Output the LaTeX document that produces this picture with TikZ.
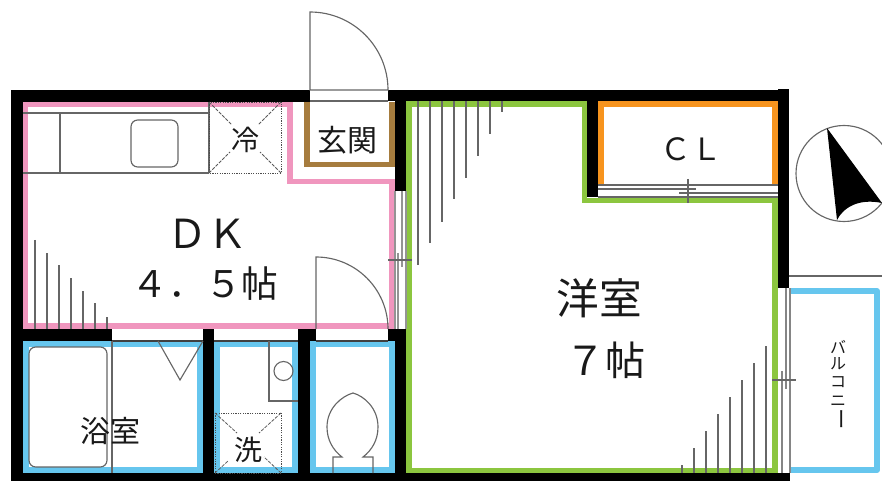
\documentclass[tikz,border=0pt]{standalone}
\usepackage{fontspec}
\setmainfont{Noto Sans CJK JP}
\begin{document}
\begin{tikzpicture}[x=0.75pt,y=-0.75pt,
  wall/.style={fill=black,draw=none},
  pinkline/.style={draw=roomPink,line width=4.1pt,line join=miter},
  thin/.style={draw=lineGrey,line width=0.85pt},
  hatch/.style={draw=lineGrey,line width=0.85pt},
  dots/.style={draw=black!70,line width=0.7pt,dash pattern=on 0.9pt off 0.9pt},
  dash1/.style={draw=black!65,line width=0.6pt,dash pattern=on 2.5pt off 1pt},
  label/.style={inner sep=0pt,text=black!90}]
\definecolor{roomPink}{HTML}{F096BE}
\definecolor{roomBlue}{HTML}{66C6EE}
\definecolor{roomGreen}{HTML}{8CC63F}
\definecolor{roomOrange}{HTML}{F7941E}
\definecolor{roomBrown}{HTML}{A67C3E}
\definecolor{lineGrey}{HTML}{666666}
\useasboundingbox (0,0) rectangle (882,481);
\clip (0,0) rectangle (882,481);
% walls
\fill[wall] (11,90) rectangle (310,102);
\fill[wall] (388,90) rectangle (789,101);
\fill[wall] (11,90) rectangle (23,481);
\fill[wall] (11,473) rectangle (406,481);
\fill[wall] (23,329) rectangle (112,341);
\fill[wall] (203,329) rectangle (214,473);
\fill[wall] (298,329) rectangle (316,341);
\fill[wall] (298,329) rectangle (310,473);
\fill[wall] (388,329) rectangle (406,341);
\fill[wall] (395,329) rectangle (406,473);
\fill[wall] (395,90) rectangle (406,191);
\fill[wall] (587,90) rectangle (598,197);
\fill[wall] (778,89) rectangle (789,288);
\fill[wall] (406,473) rectangle (790,481);
% pink
\draw[pinkline] (25.7,104.7) -- (290,104.7) -- (290,181.5) -- (392.2,181.5) -- (392.2,326.2) -- (25.7,326.2) -- cycle;
% blue
\foreach \a/\b in {23/203,214/298,310/395}{
  \draw[draw=roomBlue,line width=4.3pt] (\a+2.9,343.9) rectangle (\b-2.9,470.1);
}
\draw[draw=roomBlue,line width=4.3pt,line join=round] (790,290.9) -- (877.1,290.9) -- (877.1,470.1) -- (790,470.1);
% green
\draw[draw=roomGreen,line width=4.3pt] (409,104) -- (584.5,104) -- (584.5,200.5) -- (775,200.5) -- (775,470.5) -- (409,470.5) -- cycle;
% orange
\draw[draw=roomOrange,line width=4.3pt] (601,185) -- (601,104) -- (775,104) -- (775,185);
% brown
\draw[draw=roomBrown,line width=4.3pt] (307,102) -- (307,164.5) -- (392,164.5) -- (392,102);
% top door
\draw[thin] (310,90) -- (310,12) arc[start angle=-90,end angle=0,radius=78] -- (388,90) -- cycle;
\draw[thin] (310,101) -- (388,101);
% kitchen
\draw[thin] (23,113) -- (209,113) (23,173) -- (209,173) (60,113) -- (60,173) (209,102) -- (209,173);
\draw[thin,rounded corners=5pt] (131,120) rectangle (178,167);
\draw[dots] (209,102) rectangle (281,173);
\draw[dash1] (209,102) -- (232,125) (281,102) -- (258,125) (209,173) -- (230,152) (281,173) -- (260,152);
% hatching DK
\foreach \x/\y in {35/240,47/253,59/265,71/278,83/291,95/303,107/317}{\draw[hatch] (\x,\y) -- (\x,329);}
% yoshitsu hatching
\foreach \x/\y in {418/265,430/243,442/222,454/199,466/178,478/156,490/134,502/112}{\draw[hatch] (\x,101) -- (\x,\y);}
\foreach \x/\y in {682/465,694/448,706/431,718/414,730/397,742/380,754/363,766/346}{\draw[hatch] (\x,\y) -- (\x,473);}
% DK door
\draw[thin] (316,329) -- (316,257) arc[start angle=-90,end angle=0,radius=72];
% DK window
\draw[thin,draw=lineGrey!70] (395,191) -- (395,329) (402,191) -- (402,267) (398,253) -- (398,329) (406,191) -- (406,329);
\draw[thin] (388,260) -- (412,260);
% openings
\draw[thin,draw=black!75] (112,341) -- (203,341) (214,341) -- (298,341) (316,341) -- (388,341);
% CL window
\draw[thin] (598,185) -- (778,185) (598,189) -- (696,189) (679,193) -- (778,193) (598,197) -- (778,197);
\draw[thin] (688,179) -- (688,203);
% Balcony
\draw[thin] (789,276) -- (882,276);
\draw[thin,draw=lineGrey!80] (790,288) -- (790,473) (786,288) -- (786,389) (782,371) -- (782,473);
\draw[thin] (772,380) -- (796,380);
% Bath
\draw[thin] (112,341) -- (112,473);
\draw[thin,rounded corners=5pt] (29,347) rectangle (107,467);
\draw[thin] (158,341) -- (180,380) -- (203,341);
% Wash
\draw[thin] (269,341) -- (269,401) -- (298,401);
\draw[thin] (283.5,371) circle[radius=9.5];
\draw[dots] (215,413) rectangle (281,473);
\draw[dash1] (215,413) -- (237,433) (281,413) -- (259,433) (215,473) -- (228,461) (281,473) -- (264,457);
% Toilet
\draw[thin] (333,473) -- (333,457) -- (342,457) .. controls (333,450) and (327,440) .. (327,427) .. controls (327,408) and (342,396) .. (353,393) .. controls (364,396) and (378,408) .. (378,427) .. controls (378,440) and (372,450) .. (363,457) -- (373,457) -- (373,473);
% compass
\draw[thin] (844,173.5) circle[radius=48];
\fill[black] (827,128) -- (882,203) .. controls (858,198) and (843,208) .. (837,220) -- cycle;
% labels
\node[label,font=\fontsize{21}{21}\selectfont] (reito) at (245,140) {冷};
\node[label,font=\fontsize{22.5}{22.5}\selectfont] (genkan) at (347,140) {玄関};
\node[label,font=\fontsize{30}{30}\selectfont] (dk) at (207,234) {ＤＫ};
\node[label,font=\fontsize{27.5}{27.5}\selectfont] (dksize) at (205,284) {４．５帖};
\node[label,font=\fontsize{32}{32}\selectfont] (yoshitsu) at (599,298) {洋室};
\node[label,font=\fontsize{30}{30}\selectfont] (yosize) at (605,360) {７帖};
\node[label,font=\fontsize{23}{23}\selectfont] (cl) at (691,149) {ＣＬ};
\node[label,font=\fontsize{22.5}{22.5}\selectfont] (yoku) at (110,431) {浴室};
\node[label,font=\fontsize{21}{21}\selectfont] (sen) at (248,450) {洗};
\node[label,font=\fontsize{12}{12}\selectfont] (balcA) at (838,347) {バ};
\node[label,font=\fontsize{12}{12}\selectfont] (balcB) at (838,364) {ル};
\node[label,font=\fontsize{12}{12}\selectfont] (balcC) at (838,382) {コ};
\node[label,font=\fontsize{12}{12}\selectfont] (balcD) at (838,401) {ニ};
\node[label,font=\fontsize{16}{16}\selectfont,rotate=-90] (balcE) at (838,419) {ー};
\end{tikzpicture}
\end{document}
